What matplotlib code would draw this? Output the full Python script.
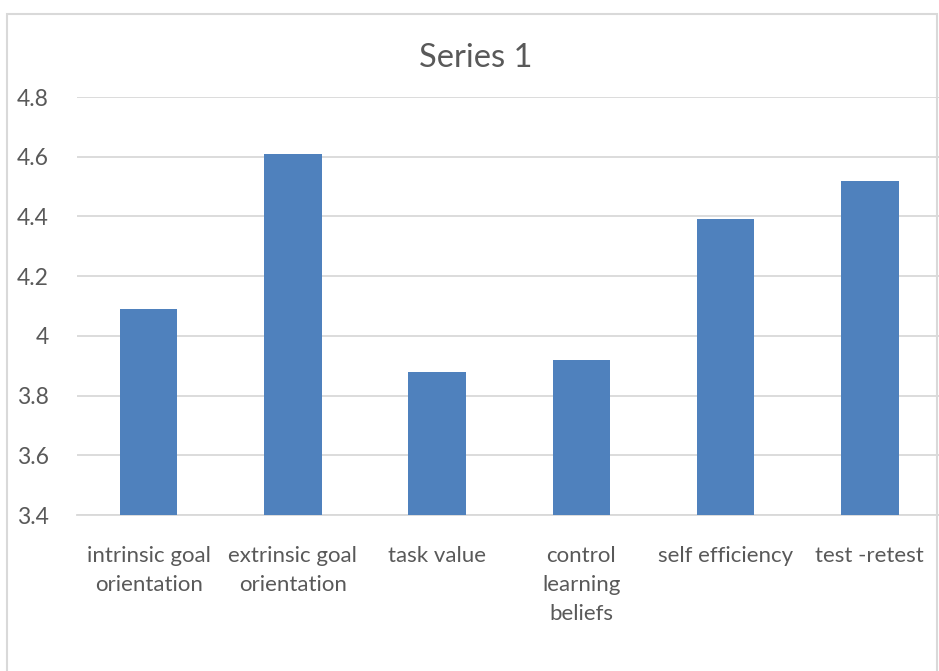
import matplotlib
matplotlib.use("Agg")
import matplotlib.pyplot as plt
from matplotlib.patches import Rectangle
from matplotlib.ticker import FuncFormatter

categories = ["intrinsic goal\norientation", "extrinsic goal\norientation", "task value",
              "control\nlearning\nbeliefs", "self efficiency", "test -retest"]
values = [4.09, 4.61, 3.88, 3.92, 4.39, 4.52]
yticks = [3.4, 3.6, 3.8, 4.0, 4.2, 4.4, 4.6, 4.8]
title = "Series 1"

plt.rcParams['font.family'] = ['Lato', 'DejaVu Sans']
W, H = 939, 671
fig = plt.figure(figsize=(W/100, H/100), dpi=100)
fig.patch.set_facecolor('white')

# chart border
fig.patches.append(Rectangle((7/W, -0.05), 930/W, (H-14)/H + 0.05, transform=fig.transFigure,
                             fill=False, edgecolor='#D9D9D9', linewidth=1.5))

left, right = 76.5, 942
top, bottom = 97, 515
ax = fig.add_axes([left/W, 1 - bottom/H, (right-left)/W, (bottom-top)/H])
x = list(range(len(categories)))
ax.bar(x, values, width=0.4, color='#4F81BD', zorder=3, bottom=0)
ax.set_ylim(3.4, 4.8)
ax.set_xlim(-0.5, len(categories) - 0.5)
ax.set_yticks(yticks)
ax.yaxis.set_major_formatter(FuncFormatter(lambda v, p: f"{v:g}"))
ax.grid(axis='y', color='#D9D9D9', linewidth=1.3, zorder=0)
for s in ['top', 'right', 'left']:
    ax.spines[s].set_visible(False)
ax.spines['bottom'].set_color('#D9D9D9')
ax.spines['bottom'].set_linewidth(1.3)
ax.set_xticks(x)
ax.set_xticklabels(categories, fontsize=16, color='#595959', linespacing=1.58, va='top')
ax.tick_params(axis='x', length=0, pad=22)
ax.tick_params(axis='y', length=0, pad=20, labelsize=16.5, labelcolor='#595959')
fig.text(476/W, 1 - 58/H, title, ha='center', va='center', fontsize=23.5, color='#595959')

fig.savefig('out.png', dpi=100)
